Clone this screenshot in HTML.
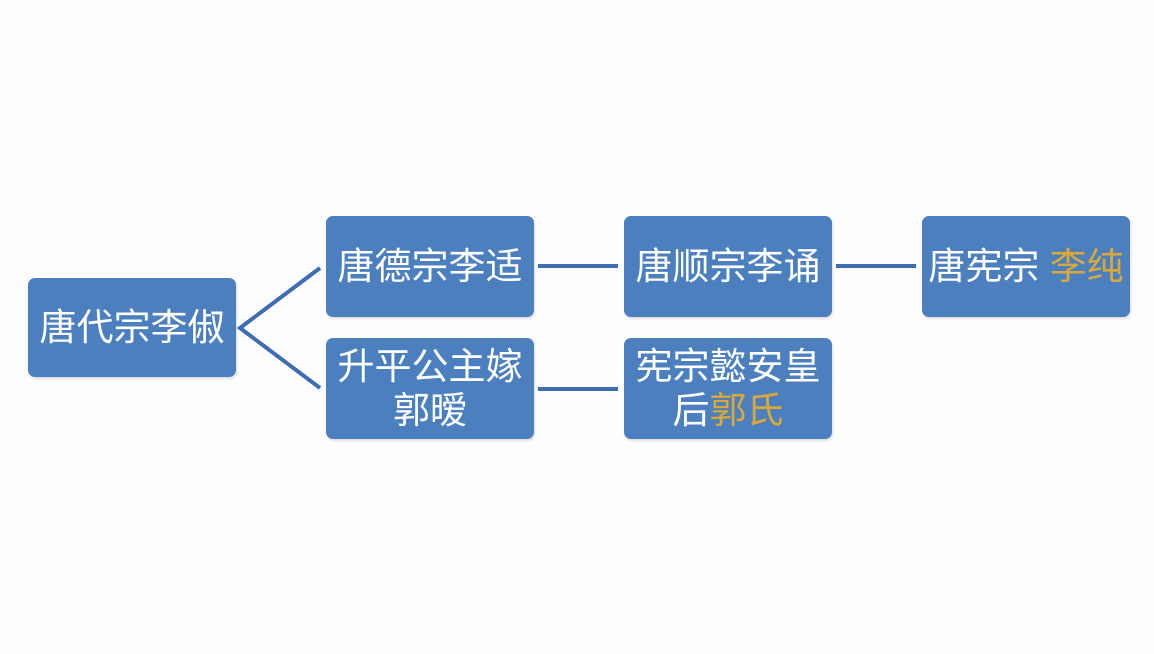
<!DOCTYPE html>
<html><head><meta charset="utf-8"><style>
body{margin:0;width:1154px;height:654px;background:#fdfcfe;position:relative;overflow:hidden;font-family:"Liberation Sans","Noto Sans CJK SC",sans-serif}
.b{position:absolute;width:208px;height:101px;background:#4c7fbe;border-radius:7px;color:#fff;font-size:37px;line-height:44px;display:flex;align-items:center;justify-content:center;text-align:center;box-shadow:1px 2px 2px rgba(0,0,0,.12)}
.b>div{white-space:nowrap}
.g{color:#d8a93a}
svg{position:absolute;left:0;top:0}
</style></head><body>
<svg width="1154" height="654"><g stroke="#3f6db4" stroke-width="4" fill="none">
<polyline points="320,268 240,328 320,388"/>
<line x1="538" y1="266" x2="618" y2="266"/>
<line x1="836" y1="266" x2="916" y2="266"/>
<line x1="538" y1="389" x2="618" y2="389"/>
</g></svg>
<div class="b" style="left:28px;top:278px;height:99px"><div>唐代宗李俶</div></div>
<div class="b" style="left:326px;top:216px"><div>唐德宗李适</div></div>
<div class="b" style="left:326px;top:338px"><div>升平公主嫁<br>郭暧</div></div>
<div class="b" style="left:624px;top:216px"><div>唐顺宗李诵</div></div>
<div class="b" style="left:624px;top:338px"><div>宪宗懿安皇<br>后<span class="g">郭氏</span></div></div>
<div class="b" style="left:922px;top:216px"><div>唐宪宗 <span class="g">李纯</span></div></div>
</body></html>
